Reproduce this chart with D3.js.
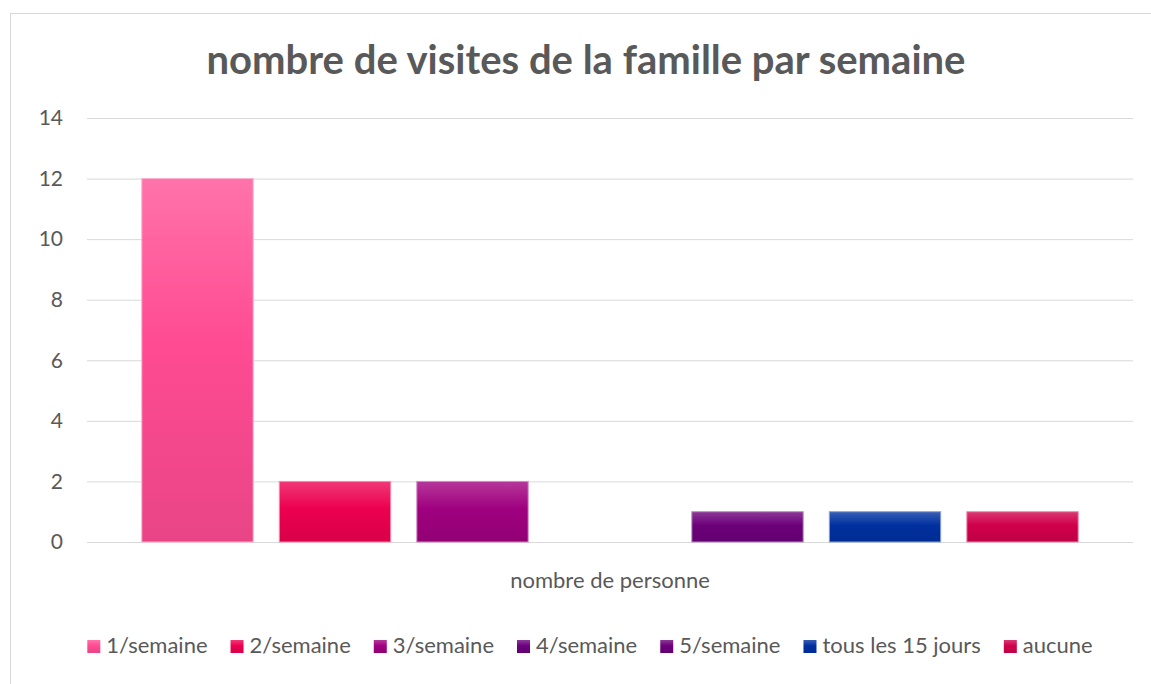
<!DOCTYPE html>
<html>
<head>
<meta charset="utf-8">
<script src="https://cdn.jsdelivr.net/npm/d3@7"></script>
<style>
  body { margin: 0; background: #fff; }
  text { font-family: Lato, "Open Sans", sans-serif; fill: #595959; }
</style>
</head>
<body>
<div id="chart"></div>
<script>
// data
const series = ["1/semaine", "2/semaine", "3/semaine", "4/semaine", "5/semaine", "tous les 15 jours", "aucune"];
const values = [12, 2, 2, 0, 1, 1, 1];
const colors = ["#ff4b92", "#ec0050", "#a0007f", "#6c007e", "#6c007a", "#0030a0", "#d0004a"];
const yTicks = [0, 2, 4, 6, 8, 10, 12, 14];
const title = "nombre de visites de la famille par semaine";
const xLabel = "nombre de personne";

const width = 1151, height = 684;
const plot = { left: 87, right: 1133, top: 118, bottom: 542 };

const svg = d3.select("#chart")
  .append("svg")
  .attr("width", width)
  .attr("height", height);

// gradients like the office preset : light top, full colour, a bit darker at bottom
const defs = svg.append("defs");
series.forEach((s, i) => {
  const base = colors[i];
  const g = defs.append("linearGradient")
    .attr("id", "grad" + i)
    .attr("x1", 0).attr("y1", 0).attr("x2", 0).attr("y2", 1);
  g.append("stop").attr("offset", "0%").attr("stop-color", d3.interpolateRgb(base, "#fff")(0.22));
  g.append("stop").attr("offset", "45%").attr("stop-color", base);
  g.append("stop").attr("offset", "100%").attr("stop-color", d3.color(base).darker(0.25));
});

// chart frame
svg.append("rect")
  .attr("x", 10.5).attr("y", 13.5)
  .attr("width", 1200).attr("height", 700)
  .attr("fill", "#fff")
  .attr("stroke", "#d9d9d9");

const x = d3.scaleBand()
  .domain(series)
  .range([plot.left, plot.right])
  .paddingInner(0.19)
  .paddingOuter(0.3985);

const y = d3.scaleLinear()
  .domain([0, 14])
  .range([plot.bottom, plot.top]);

// gridlines
svg.append("g")
  .selectAll("line")
  .data(yTicks)
  .join("line")
  .attr("x1", plot.left).attr("x2", plot.right)
  .attr("y1", d => y(d) + 0.5).attr("y2", d => y(d) + 0.5)
  .attr("stroke", "#d9d9d9")
  .attr("stroke-width", 1);

// y axis labels
const yAxis = svg.append("g")
  .attr("transform", `translate(${plot.left - 24},0)`)
  .call(d3.axisLeft(y).tickValues(yTicks).tickSize(0).tickPadding(0));
yAxis.select(".domain").remove();
yAxis.selectAll("text")
  .attr("fill", "#595959")
  .style("font-family", "Lato, 'Open Sans', sans-serif")
  .style("font-size", "21px");

// bars
svg.append("g")
  .selectAll("rect")
  .data(series.map((s, i) => ({ s, v: values[i], i })))
  .join("rect")
  .attr("x", d => x(d.s))
  .attr("y", d => y(d.v))
  .attr("width", x.bandwidth())
  .attr("height", d => y(0) - y(d.v))
  .attr("fill", d => `url(#grad${d.i})`)
  .attr("stroke", d => d.v > 0 ? d3.interpolateRgb(colors[d.i], "#fff")(0.55) : "none")
  .attr("stroke-width", 1);

// title
svg.append("text")
  .attr("x", 586)
  .attr("y", 74)
  .attr("text-anchor", "middle")
  .style("font-size", "40px")
  .style("font-weight", "bold")
  .text(title);

// category label
svg.append("text")
  .attr("x", 610)
  .attr("y", 588)
  .attr("text-anchor", "middle")
  .style("font-size", "22px")
  .text(xLabel);

// legend
const legend = svg.append("g");
const items = legend.selectAll("g")
  .data(series)
  .join("g");
items.append("rect")
  .attr("y", 640)
  .attr("width", 13).attr("height", 13)
  .attr("fill", (d, i) => `url(#grad${i})`);
items.append("text")
  .attr("x", 19)
  .attr("y", 653)
  .style("font-size", "22px")
  .text(d => d);

const gap = 23;
let cx = 0;
const offsets = [];
items.each(function () {
  offsets.push(cx);
  const w = d3.select(this).select("text").node().getComputedTextLength();
  cx += 19 + w + gap;
});
const total = cx - gap;
const start = 590 - total / 2;
items.attr("transform", (d, i) => `translate(${start + offsets[i]},0)`);
</script>
</body>
</html>
